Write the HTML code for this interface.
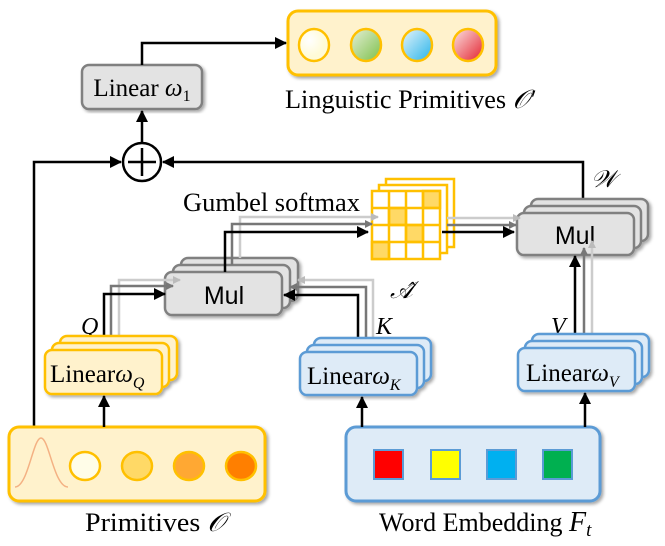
<!DOCTYPE html>
<html><head><meta charset="utf-8"><style>
html,body{margin:0;padding:0;background:#fff;}
svg{display:block;}
.s{font-family:"Liberation Serif",serif;}
.a{font-family:"Liberation Sans",sans-serif;}
</style></head><body>
<svg width="665" height="546" viewBox="0 0 665 546" xmlns="http://www.w3.org/2000/svg">
<defs>
<marker id="ah2" markerWidth="12" markerHeight="12" refX="11" refY="6" orient="auto" markerUnits="userSpaceOnUse"><path d="M0,0 L12,6 L0,12 z" fill="#000"/></marker>
<marker id="ag" markerWidth="8" markerHeight="8" refX="7" refY="4" orient="auto" markerUnits="userSpaceOnUse"><path d="M0,0 L8,4 L0,8 z" fill="#777"/></marker>
<marker id="al" markerWidth="8" markerHeight="8" refX="7" refY="4" orient="auto" markerUnits="userSpaceOnUse"><path d="M0,0 L8,4 L0,8 z" fill="#bbb"/></marker>
<radialGradient id="g1" cx="0.35" cy="0.35"><stop offset="0" stop-color="#fff"/><stop offset="1" stop-color="#fffbd8"/></radialGradient>
<linearGradient id="g2" x1="0" y1="0" x2="1" y2="1"><stop offset="0" stop-color="#e6efd8"/><stop offset="1" stop-color="#7cc04a"/></linearGradient>
<linearGradient id="g3" x1="0" y1="0" x2="1" y2="1"><stop offset="0" stop-color="#e8f4fb"/><stop offset="1" stop-color="#27b4ea"/></linearGradient>
<linearGradient id="g4" x1="0" y1="0" x2="1" y2="1"><stop offset="0" stop-color="#fbe4e4"/><stop offset="1" stop-color="#e4222e"/></linearGradient>
<filter id="sh"><feDropShadow dx="2" dy="2" stdDeviation="1.5" flood-opacity="0.35"/></filter>
</defs>

<rect x="288" y="11" width="208" height="64" rx="10" fill="#fff2cc" stroke="#ffc000" stroke-width="3" filter="url(#sh)"/>
<ellipse cx="314" cy="45" rx="15" ry="16" fill="url(#g1)" stroke="#ffc000" stroke-width="2.5"/>
<ellipse cx="366" cy="45" rx="15" ry="16" fill="url(#g2)" stroke="#ffc000" stroke-width="2.5"/>
<ellipse cx="417" cy="45" rx="15" ry="16" fill="url(#g3)" stroke="#ffc000" stroke-width="2.5"/>
<ellipse cx="468" cy="45" rx="15" ry="16" fill="url(#g4)" stroke="#ffc000" stroke-width="2.5"/>
<text x="285" y="108" class="s" font-size="26" textLength="250" lengthAdjust="spacingAndGlyphs">Linguistic Primitives <tspan font-style="italic">𝒪′</tspan></text>

<rect x="82" y="65" width="120" height="44" rx="7" fill="#e3e3e3" stroke="#808080" stroke-width="2.5" filter="url(#sh)"/>
<text x="142" y="96" class="s" font-size="25" text-anchor="middle">Linear <tspan font-style="italic">ω</tspan><tspan font-size="16" dy="5">1</tspan></text>
<path d="M142,65 V43 H286" fill="none" stroke="#000" stroke-width="2.5" marker-end="url(#ah2)"/>

<circle cx="142" cy="162" r="19" fill="#fff" stroke="#000" stroke-width="2.5"/>
<path d="M142,148 V176 M128,162 H156" stroke="#000" stroke-width="2.5"/>
<path d="M142,143 V111" stroke="#000" stroke-width="2.5" marker-end="url(#ah2)"/>
<path d="M34,427 V162 H121" fill="none" stroke="#000" stroke-width="2.5" marker-end="url(#ah2)"/>
<path d="M583,200 V162 H163" fill="none" stroke="#000" stroke-width="2.5" marker-end="url(#ah2)"/>
<text x="591" y="187" class="s" font-size="24" font-style="italic">𝒲</text>

<text x="183" y="211" class="s" font-size="26" textLength="177" lengthAdjust="spacingAndGlyphs">Gumbel softmax</text>
<g stroke="#ffc000" stroke-width="2.5">
<rect x="386" y="179" width="68" height="68" fill="#fff"/>
<rect x="379" y="185" width="68" height="68" fill="#fff"/>
<rect x="372" y="191" width="68" height="68" fill="#fff"/>
<rect x="423" y="191" width="17" height="17" fill="#ffd966"/>
<rect x="389" y="208" width="17" height="17" fill="#ffd966"/>
<rect x="406" y="225" width="17" height="17" fill="#ffd966"/>
<rect x="372" y="242" width="17" height="17" fill="#ffd966"/>
<path d="M389,191 V259 M406,191 V259 M423,191 V259 M372,208 H440 M372,225 H440 M372,242 H440" fill="none"/>
</g>
<text x="390" y="298" class="s" font-size="24" font-style="italic">𝒜̂</text>

<g filter="url(#sh)">
<rect x="531" y="199" width="117" height="42" rx="7" fill="#e3e3e3" stroke="#808080" stroke-width="2.5"/>
<rect x="524" y="206" width="117" height="42" rx="7" fill="#e3e3e3" stroke="#808080" stroke-width="2.5"/>
<rect x="517" y="213" width="117" height="42" rx="7" fill="#e3e3e3" stroke="#808080" stroke-width="2.5"/>
</g>
<text x="575" y="244" class="a" font-size="25" text-anchor="middle">Mul</text>
<path d="M447,218 H520" fill="none" stroke="#ccc" stroke-width="2.5" marker-end="url(#al)"/>
<path d="M447,225 H516" fill="none" stroke="#777" stroke-width="2.5" marker-end="url(#ag)"/>
<path d="M442,232 H514" fill="none" stroke="#000" stroke-width="2.5" marker-end="url(#ah2)"/>

<g filter="url(#sh)">
<rect x="181" y="258" width="117" height="43" rx="7" fill="#e3e3e3" stroke="#808080" stroke-width="2.5"/>
<rect x="173" y="265" width="117" height="43" rx="7" fill="#e3e3e3" stroke="#808080" stroke-width="2.5"/>
<rect x="165" y="272" width="117" height="43" rx="7" fill="#e3e3e3" stroke="#808080" stroke-width="2.5"/>
</g>
<text x="224" y="304" class="a" font-size="25" text-anchor="middle">Mul</text>
<path d="M240,258 V217 H378" fill="none" stroke="#ccc" stroke-width="2.5" marker-end="url(#al)"/>
<path d="M232,265 V224 H372" fill="none" stroke="#777" stroke-width="2.5" marker-end="url(#ag)"/>
<path d="M225,272 V232 H368" fill="none" stroke="#000" stroke-width="2.5" marker-end="url(#ah2)"/>

<path d="M119,337 V280 H180" fill="none" stroke="#ccc" stroke-width="2.5" marker-end="url(#al)"/>
<path d="M111,343 V286 H173" fill="none" stroke="#777" stroke-width="2.5" marker-end="url(#ag)"/>
<path d="M104,350 V294 H165" fill="none" stroke="#000" stroke-width="2.5" marker-end="url(#ah2)"/>
<text x="81" y="334" class="s" font-size="24" font-style="italic">Q</text>
<g filter="url(#sh)">
<rect x="60" y="336" width="117" height="44" rx="7" fill="#fff2cc" stroke="#ffc000" stroke-width="2.5"/>
<rect x="52" y="343" width="117" height="44" rx="7" fill="#fff2cc" stroke="#ffc000" stroke-width="2.5"/>
<rect x="45" y="350" width="117" height="44" rx="7" fill="#fff2cc" stroke="#ffc000" stroke-width="2.5"/>
</g>
<text x="50" y="382" class="s" font-size="25">Linear<tspan font-style="italic">ω</tspan><tspan font-size="16" font-style="italic" dy="6">Q</tspan></text>

<path d="M373,337 V280 H298" fill="none" stroke="#ccc" stroke-width="2.5" marker-end="url(#al)"/>
<path d="M366,343 V287 H290" fill="none" stroke="#777" stroke-width="2.5" marker-end="url(#ag)"/>
<path d="M358,352 V295 H284" fill="none" stroke="#000" stroke-width="2.5" marker-end="url(#ah2)"/>
<text x="376" y="334" class="s" font-size="24" font-style="italic">K</text>
<g filter="url(#sh)">
<rect x="314" y="338" width="117" height="43" rx="7" fill="#deebf7" stroke="#5b9bd5" stroke-width="2.5"/>
<rect x="307" y="345" width="117" height="43" rx="7" fill="#deebf7" stroke="#5b9bd5" stroke-width="2.5"/>
<rect x="300" y="352" width="117" height="43" rx="7" fill="#deebf7" stroke="#5b9bd5" stroke-width="2.5"/>
</g>
<text x="307" y="384" class="s" font-size="25">Linear<tspan font-style="italic">ω</tspan><tspan font-size="16" font-style="italic" dy="6">K</tspan></text>

<path d="M592,334 V241" fill="none" stroke="#ccc" stroke-width="2.5" marker-end="url(#al)"/>
<path d="M584,340 V248" fill="none" stroke="#777" stroke-width="2.5" marker-end="url(#ag)"/>
<path d="M575,348 V256" fill="none" stroke="#000" stroke-width="2.5" marker-end="url(#ah2)"/>
<text x="551" y="334" class="s" font-size="24" font-style="italic">V</text>
<g filter="url(#sh)">
<rect x="532" y="334" width="117" height="43" rx="7" fill="#deebf7" stroke="#5b9bd5" stroke-width="2.5"/>
<rect x="525" y="341" width="117" height="43" rx="7" fill="#deebf7" stroke="#5b9bd5" stroke-width="2.5"/>
<rect x="518" y="348" width="117" height="43" rx="7" fill="#deebf7" stroke="#5b9bd5" stroke-width="2.5"/>
</g>
<text x="526" y="381" class="s" font-size="25">Linear<tspan font-style="italic">ω</tspan><tspan font-size="16" font-style="italic" dy="6">V</tspan></text>

<rect x="9" y="427" width="256" height="74" rx="10" fill="#fff2cc" stroke="#ffc000" stroke-width="3" filter="url(#sh)"/>
<path d="M15,487 C28,487 33,438 41,438 C49,438 54,487 68,487" fill="none" stroke="#f4b183" stroke-width="1.5"/>
<ellipse cx="85" cy="466" rx="15" ry="14" fill="#fffde8" stroke="#ffc000" stroke-width="2.5"/>
<ellipse cx="137" cy="466" rx="15" ry="14" fill="#ffd966" stroke="#ffc000" stroke-width="2.5"/>
<ellipse cx="189" cy="466" rx="15" ry="14" fill="#ffa833" stroke="#ffc000" stroke-width="2.5"/>
<ellipse cx="241" cy="466" rx="15" ry="14" fill="#ff7f00" stroke="#ffc000" stroke-width="2.5"/>
<path d="M104,427 V396" stroke="#000" stroke-width="2.5" marker-end="url(#ah2)"/>
<text x="85" y="531" class="s" font-size="26" textLength="140" lengthAdjust="spacingAndGlyphs">Primitives <tspan font-style="italic">𝒪</tspan></text>

<rect x="346" y="427" width="254" height="74" rx="10" fill="#deebf7" stroke="#5b9bd5" stroke-width="3" filter="url(#sh)"/>
<rect x="374" y="450" width="29" height="29" fill="#ff0000" stroke="#5b9bd5" stroke-width="2"/>
<rect x="431" y="450" width="29" height="29" fill="#ffff00" stroke="#5b9bd5" stroke-width="2"/>
<rect x="487" y="450" width="29" height="29" fill="#00b0f0" stroke="#5b9bd5" stroke-width="2"/>
<rect x="543" y="450" width="29" height="29" fill="#00b050" stroke="#5b9bd5" stroke-width="2"/>
<path d="M362,427 V397" stroke="#000" stroke-width="2.5" marker-end="url(#ah2)"/>
<path d="M585,427 V393" stroke="#000" stroke-width="2.5" marker-end="url(#ah2)"/>
<text x="379" y="531" class="s" font-size="26">Word Embedding <tspan font-style="italic" font-size="28">F</tspan><tspan font-style="italic" font-size="19" dy="5">t</tspan></text>
</svg>
</body></html>
